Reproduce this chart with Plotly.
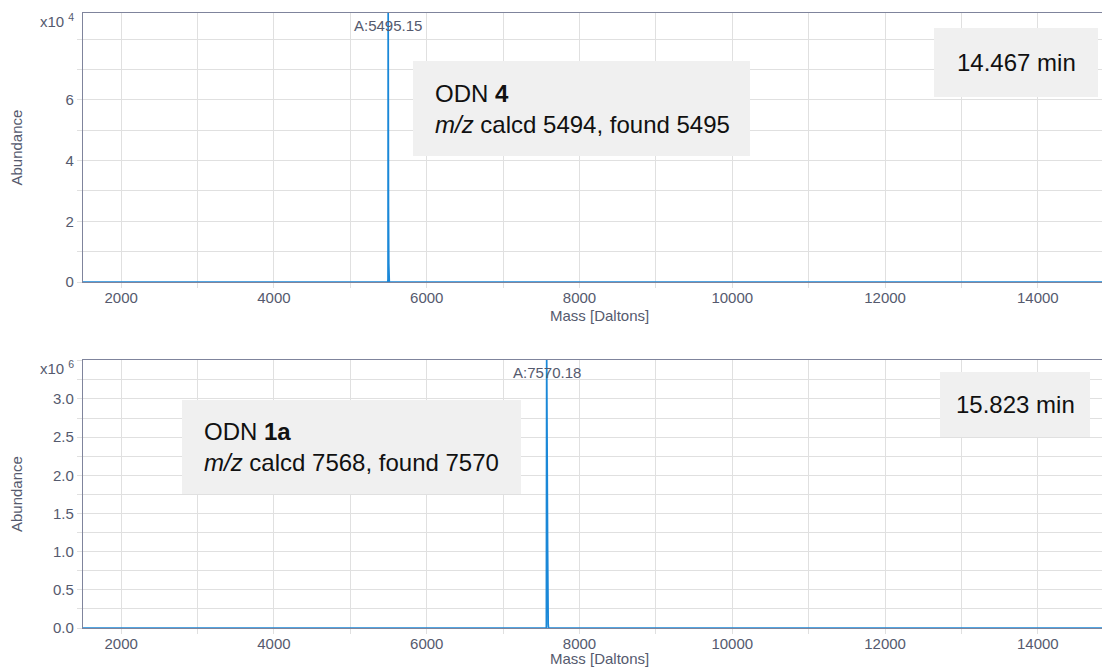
import plotly.graph_objects as go
from plotly.subplots import make_subplots

W, H = 1102, 668

mass_odn4 = [1500, 5480, 5490, 5493, 5495.15, 5499, 5503, 5506, 5510, 14840]
abund_odn4 = [0, 0, 0, 0.1e4, 8.9e4, 2.5e4, 0.6e4, 0.2e4, 0, 0]

mass_odn1a = [1500, 7560, 7566, 7570.18, 7574, 7582, 7590, 7594, 14840]
abund_odn1a = [0, 0, 0, 3.6e6, 1.35e6, 1.1e6, 0.05e6, 0, 0]

x_ticks = [2000, 4000, 6000, 8000, 10000, 12000, 14000]
y_ticks_odn4 = [0, 2, 4, 6]
y_ticks_odn1a = [0.0, 0.5, 1.0, 1.5, 2.0, 2.5, 3.0]

peak_labels = ["A:5495.15", "A:7570.18"]
peak_mass = [5495.15, 7570.18]
times = ["14.467 min", "15.823 min"]
odn_texts = [
    "ODN <b>4</b><br><i>m/z</i> calcd 5494, found 5495",
    "ODN <b>1a</b><br><i>m/z</i> calcd 7568, found 7570",
]

_BLUE = "#1a88d8"
_AXIS = "#7f849c"
_GRID = "#e0e0e0"
_TICK = "#555a6e"
_BOX = "#f0f0f0"
_FONT = "Liberation Sans, Arial, sans-serif"


def px_x(x):
    return x / W


def px_y(y):
    return 1 - y / H


fig = make_subplots(rows=2, cols=1)

fig.add_trace(go.Scatter(x=mass_odn4, y=[v / 1e4 for v in abund_odn4], mode="lines",
                         line=dict(color=_BLUE, width=1.7), showlegend=False), row=1, col=1)
fig.add_trace(go.Scatter(x=mass_odn1a, y=[v / 1e6 for v in abund_odn1a], mode="lines",
                         line=dict(color=_BLUE, width=1.7), showlegend=False), row=2, col=1)

fig.update_xaxes(
    range=[1500, 14840], tickvals=x_ticks, ticktext=[str(v) for v in x_ticks],
    showline=True, mirror=True, linecolor=_AXIS, linewidth=1.2,
    showgrid=True, gridcolor=_GRID, gridwidth=1.2, zeroline=False,
    ticks="outside", ticklen=5, tickcolor=_GRID, automargin=False,
    ticklabelstandoff=-3,
    minor=dict(tick0=0, dtick=1000, showgrid=True, gridcolor=_GRID, ticks="outside",
               ticklen=5, tickcolor=_GRID),
    tickfont=dict(size=15, color=_TICK, family=_FONT),
)
fig.update_yaxes(
    showline=True, mirror=False, linecolor=_AXIS, linewidth=1.2,
    showgrid=True, gridcolor=_GRID, gridwidth=1.2, zeroline=False,
    ticks="outside", ticklen=5, tickcolor=_GRID, automargin=False,
    tickfont=dict(size=15, color=_TICK, family=_FONT),
)
fig.update_yaxes(range=[0, 8.86], tickvals=y_ticks_odn4,
                 ticktext=[str(v) for v in y_ticks_odn4],
                 minor=dict(tick0=0, dtick=1, showgrid=True, gridcolor=_GRID, ticks="outside",
                            ticklen=5, tickcolor=_GRID), row=1, col=1)
fig.update_yaxes(range=[0, 3.51], tickvals=y_ticks_odn1a,
                 ticktext=[f"{v:.1f}" for v in y_ticks_odn1a],
                 minor=dict(tick0=0, dtick=0.25, showgrid=True, gridcolor=_GRID, ticks="outside",
                            ticklen=5, tickcolor=_GRID), row=2, col=1)

fig.update_layout(
    xaxis=dict(domain=[px_x(83), 1]),
    xaxis2=dict(domain=[px_x(83), 1]),
    yaxis=dict(domain=[px_y(282), px_y(13)]),
    yaxis2=dict(domain=[px_y(628), px_y(360)]),
)

annots = []
shapes = []
panels = [
    dict(top=13, bottom=282, exp="4", xtitle_y=315, xref="x", yref="y", ytop=8.86,
         odn_box=(413, 61, 750, 156), time_box=(934, 28, 1098, 97)),
    dict(top=360, bottom=628, exp="6", xtitle_y=658, xref="x2", yref="y2", ytop=3.51,
         odn_box=(182, 400, 521, 494), time_box=(940, 372, 1090, 437)),
]
for i, p in enumerate(panels):
    # libellé du pic
    annots.append(dict(x=peak_mass[i], y=p["ytop"], xref=p["xref"], yref=p["yref"],
                       text=peak_labels[i], showarrow=False, xanchor="center",
                       yanchor="top", yshift=-2,
                       font=dict(size=15, color=_TICK, family=_FONT)))
    # facteur d'échelle
    annots.append(dict(x=px_x(76), y=px_y(p["top"] + 7), xref="paper", yref="paper",
                       xanchor="right", yanchor="middle", showarrow=False,
                       text="x10 <sup>" + p["exp"] + "</sup>",
                       font=dict(size=15, color=_TICK, family=_FONT)))
    # titres d'axes
    annots.append(dict(x=px_x(16), y=px_y((p["top"] + p["bottom"]) / 2), xref="paper",
                       yref="paper", xanchor="center", yanchor="middle", textangle=-90,
                       showarrow=False, text="Abundance",
                       font=dict(size=15, color=_TICK, family=_FONT)))
    annots.append(dict(x=px_x(599), y=px_y(p["xtitle_y"]), xref="paper", yref="paper",
                       xanchor="center", yanchor="middle", showarrow=False,
                       text="Mass [Daltons]",
                       font=dict(size=15, color=_TICK, family=_FONT)))
    # boîtes grises
    for box in (p["odn_box"], p["time_box"]):
        x0, y0, x1, y1 = box
        shapes.append(dict(type="rect", xref="paper", yref="paper", x0=px_x(x0), x1=px_x(x1),
                           y0=px_y(y1), y1=px_y(y0), fillcolor=_BOX, line=dict(width=0),
                           layer="above"))
    x0, y0, x1, y1 = p["odn_box"]
    annots.append(dict(x=px_x(x0 + 20), y=px_y((y0 + y1) / 2), xref="paper", yref="paper",
                       xanchor="left", yanchor="middle", align="left", showarrow=False,
                       text=odn_texts[i], font=dict(size=24, color="#111111", family=_FONT)))
    x0, y0, x1, y1 = p["time_box"]
    annots.append(dict(x=px_x((x0 + x1) / 2), y=px_y((y0 + y1) / 2), xref="paper",
                       yref="paper", xanchor="center", yanchor="middle", showarrow=False,
                       text=times[i], font=dict(size=24, color="#111111", family=_FONT)))

fig.update_layout(
    width=W, height=H,
    margin=dict(l=0, r=0, t=0, b=0),
    paper_bgcolor="white", plot_bgcolor="white",
    annotations=annots, shapes=shapes,
    showlegend=False,
)

# marge par défaut du <body> supprimée pour que la figure remplisse la fenêtre
fig.write_html("out.html", config={"displayModeBar": False},
               post_script="document.body.style.margin='0';"
                           "document.body.style.overflow='hidden';")
